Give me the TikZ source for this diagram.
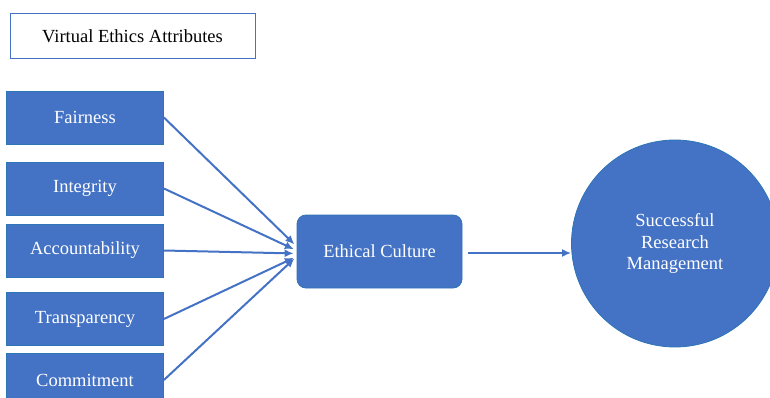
\documentclass[tikz,border=0pt]{standalone}
\usepackage{fontspec}
\setmainfont{Liberation Serif}
\usetikzlibrary{shapes,arrows.meta}
\definecolor{officeblue}{HTML}{4472C4}
\definecolor{edgeblue}{HTML}{2E75B6}
\tikzstyle{attr} = [rectangle, minimum width=157pt, minimum height=53pt, text centered, fill=officeblue, draw=edgeblue, line width=0.8pt, text=white, font=\fontsize{18.5}{21}\selectfont]
\tikzstyle{head} = [rectangle, minimum width=245pt, minimum height=45pt, text centered, draw=officeblue, line width=1pt, font=\fontsize{18.5}{21}\selectfont]
\tikzstyle{link} = [draw=officeblue, line width=2pt, -{Latex[length=9pt,width=8pt]}]

\begin{document}
\begin{tikzpicture}[x=1pt,y=1pt,node distance=65pt]
		\useasboundingbox (0,0) rectangle (770,-398);
		\node[head] (title) at (132.5,-36.5) {Virtual Ethics Attributes};
		\node[attr] (fair) at (85,-117.5) {Fairness};
		\node[attr,below of=fair,yshift=-6pt] (integ) {Integrity};
		\node[attr,below of=integ,yshift=3pt] (account) {Accountability};
		\node[attr,below of=account,yshift=-3.5pt] (transp) {Transparency};
		\node[attr,below of=transp,yshift=4pt] (commit) {Commitment};
		\node[attr,rounded corners=9pt,minimum width=165pt,minimum height=73pt] (culture) at (379.5,-251.5) {Ethical Culture};
		\node[circle,fill=officeblue,draw=edgeblue,line width=0.8pt,minimum size=207pt,text=white,align=center,font=\fontsize{18.5}{21.5}\selectfont] (success) at (675,-243.5) {Successful\\Research\\Management};
		
		\draw[link,shorten >=3pt] (fair.east) -- ([yshift=5pt]culture.west);
		\draw[link,shorten >=3pt] (integ.east) -- ([yshift=1pt]culture.west);
		\draw[link,shorten >=3pt] (account.east) -- ([yshift=-2pt]culture.west);
		\draw[link,shorten >=3pt] (transp.east) -- ([yshift=-5pt]culture.west);
		\draw[link,shorten >=3pt] (commit.east) -- ([yshift=-5pt]culture.west);
		\draw[link,shorten <=6pt] ([yshift=-1.5pt]culture.east) -- ([yshift=-1.5pt]culture.east -| success.west);
\end{tikzpicture}
\end{document}
